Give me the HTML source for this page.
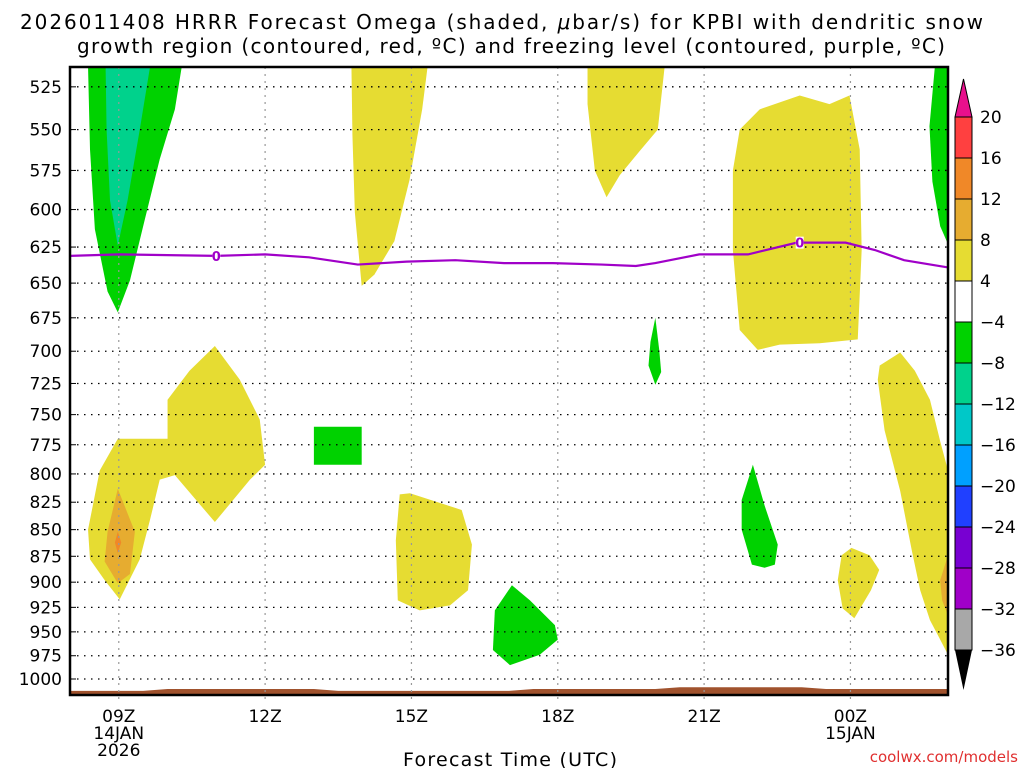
<!DOCTYPE html>
<html><head><meta charset="utf-8"><style>
html,body{margin:0;padding:0;background:#fff;width:1024px;height:768px;overflow:hidden}
svg text{font-family:"DejaVu Sans","Liberation Sans",sans-serif}
</style></head><body>
<svg id="chart" width="1024" height="768" xmlns="http://www.w3.org/2000/svg">
<text x="20" y="29" font-size="20" textLength="963" lengthAdjust="spacing">2026011408 HRRR Forecast Omega (shaded, <tspan font-style="italic">μ</tspan>bar/s) for KPBI with dendritic snow</text>
<text x="77" y="53" font-size="20" textLength="868" lengthAdjust="spacing">growth region (contoured, red, ºC) and freezing level (contoured, purple, ºC)</text>
<g id="shades"></g>
<g id="grid"></g>
<g id="lines"></g>
<g id="axes"></g>
<g id="cbar"></g>
<text x="403" y="766" font-size="19" textLength="214" lengthAdjust="spacing">Forecast Time (UTC)</text>
<text x="1018" y="762" font-size="15" fill="#e03030" text-anchor="end">coolwx.com/models</text>
</svg>
<script>
const pressureLevels=[525,550,575,600,625,650,675,700,725,750,775,800,825,850,875,900,925,950,975,1000];
const hourTicks=[9,12,15,18,21,24];
const hourLabels=[["09Z","14JAN","2026"],["12Z"],["15Z"],["18Z"],["21Z"],["00Z","15JAN"],];
const cbarLevels=[20,16,12,8,4,-4,-8,-12,-16,-20,-24,-28,-32,-36];
const cbarColors=["#ff4040","#f08828","#e6ac30","#e6dc32","#ffffff","#00d200","#00d28c","#00c8c8","#00a0ff","#2040ff","#7800d2","#a000c8","#a8a8a8"];
const TOP=513;
const shapes=[
 {c:"#00d200",h:[8.37,10.29,10.15,9.84,9.53,9.23,8.98,8.77,8.51,8.41],p:[TOP,TOP,538,568,607,648,671,656,613,562]},
 {c:"#00d28c",h:[8.73,9.64,9.43,9.18,8.98,8.82,8.75],p:[TOP,TOP,550,594,624,594,550]},
 {c:"#e6dc32",h:[8.37,8.61,8.98,10.0,10.0,10.45,10.97,11.48,11.89,12.0,11.69,10.97,10.15,9.84,9.64,9.43,9.02,8.71,8.41],p:[850,797,770,770,738,715,696,722,754,792,805,843,801,805,841,878,917,898,878]},
 {c:"#e6ac30",h:[8.77,8.98,9.33,9.23,8.98,8.71],p:[852,813,852,892,901,880]},
 {c:"#f08828",h:[8.92,8.98,9.05,8.98],p:[862,852,862,872]},
 {c:"#e6dc32",h:[13.77,15.33,15.22,14.96,14.65,14.24,13.98,13.84,13.79],p:[TOP,TOP,538,581,621,644,652,602,553]},
 {c:"#00d200",h:[13.0,13.98,13.98,13.0],p:[760,760,792,792]},
 {c:"#e6dc32",h:[14.76,14.97,16.03,16.24,16.16,15.79,15.17,14.72,14.68],p:[818,817,832,864,908,923,928,918,860]},
 {c:"#00d200",h:[17.06,17.43,17.94,18.0,17.63,17.02,16.67,16.71],p:[903,918,943,958,974,985,969,928]},
 {c:"#e6dc32",h:[18.61,20.19,20.05,19.68,19.27,19.0,18.76,18.61],p:[TOP,TOP,550,563,578,592,575,535]},
 {c:"#00d200",h:[20.0,20.08,20.12,20.0,19.86,19.9],p:[675,699,716,726,711,693]},
 {c:"#e6dc32",h:[21.73,22.14,22.96,23.57,23.98,24.19,24.23,24.15,23.37,22.55,22.10,21.73,21.59,21.59],p:[550,538,530,535,530,562,627,691,694,695,699,684,627,575]},
 {c:"#00d200",h:[22.0,22.24,22.51,22.45,22.24,21.98,21.77,21.77],p:[792,828,864,883,886,883,850,823]},
 {c:"#e6dc32",h:[24.02,24.39,24.59,24.42,24.08,23.84,23.74,23.82],p:[867,874,888,908,936,926,898,874]},
 {c:"#e6dc32",h:[24.6,25.02,25.32,25.63,25.84,26.0,26.0,25.84,25.63,25.43,25.26,25.02,24.7,24.56],p:[711,701,715,738,772,797,974,958,938,908,870,815,763,722]},
 {c:"#e6ac30",h:[26,25.84,25.88,26],p:[874,898,918,933]},
 {c:"#00d200",h:[25.73,26,26,25.84,25.68,25.62],p:[TOP,TOP,623,611,582,548]}
];
const frzHours=[8,9,11,12,12.9,13.9,14.9,15.9,16.9,17.9,18.9,19.6,20,20.9,21.9,22.9,23.9,24.5,25.1,26];
const frzP=[631,630,631,630,632,637,635,634,636,636,637,638,636,630,630,622,622,627,634,639];
const frzLabelHours=[11,22.96];
const groundHours=[8,9.5,10,13,13.5,17,17.5,20,20.5,23,23.5,26];
const groundP=[1013,1013,1011,1011,1013,1013,1011,1011,1009,1009,1011,1011];
const X0=70,X1=948,Y0=67,Y1=695;
const xS=h=>X0+(h-8)*(X1-X0)/18;
const yS=p=>679-919*Math.log(1000/p);
const NS="http://www.w3.org/2000/svg";
function mk(t,a,parent){const e=document.createElementNS(NS,t);for(const k in a)e.setAttribute(k,a[k]);parent.appendChild(e);return e;}
const gS=document.getElementById('shades'),gG=document.getElementById('grid'),gL=document.getElementById('lines'),gA=document.getElementById('axes'),gC=document.getElementById('cbar');
mk('clipPath',{id:'pc'},gS).appendChild(document.createElementNS(NS,'rect'));
const cr=gS.querySelector('clipPath rect');cr.setAttribute('x',X0);cr.setAttribute('y',Y0);cr.setAttribute('width',X1-X0);cr.setAttribute('height',Y1-Y0);
shapes.forEach((s,i)=>{
 const pts=s.h.map((h,j)=>Math.min(X1,Math.max(X0,xS(h)))+','+Math.max(Y0,yS(s.p[j]))).join(' ');
 const e=mk('polygon',{points:pts,fill:s.c,'clip-path':'url(#pc)'},gS);
 
 
});
{let d='M'+X0+','+Y1;groundHours.forEach((h,i)=>{d+=' L'+xS(h)+','+(yS(groundP[i])-0);});d+=' L'+X1+','+Y1+' Z';
const e=mk('path',{d:d,fill:'#a0522d'},gS);

}
pressureLevels.forEach(p=>{const y=yS(p);
 const e=mk('line',{x1:X0,x2:X1,y1:y,y2:y,stroke:'#000','stroke-width':1.3,'stroke-dasharray':'1.5 5.5'},gG);
 
 
 const t=mk('text',{x:62,y:y+6,'font-size':17,'text-anchor':'end'},gA);t.textContent=p;
 
 
 mk('line',{x1:X0,x2:X0+6,y1:y,y2:y,stroke:'#000'},gA);
});
hourTicks.forEach((h,i)=>{const x=xS(h);
 const e=mk('line',{x1:x,x2:x,y1:Y0,y2:Y1+8,stroke:'#999','stroke-width':1.2,'stroke-dasharray':'2 5'},gG);
 
 
 hourLabels[i].forEach((s,j)=>{const t=mk('text',{x:x,y:722+j*17,'font-size':17,'text-anchor':'middle'},gA);t.textContent=s;
 
 });
});
{const d=frzHours.map((h,i)=>(i?'L':'M')+xS(h)+','+yS(frzP[i])).join(' ');
const e=mk('path',{d:d,fill:'none',stroke:'#a000c8','stroke-width':2.2},gL);


frzLabelHours.forEach(h=>{let k=0;while(k<frzHours.length-2&&frzHours[k+1]<h)k++;
 const f=(h-frzHours[k])/(frzHours[k+1]-frzHours[k]);const p=frzP[k]+f*(frzP[k+1]-frzP[k]);
 const x=xS(h),y=yS(p);mk('rect',{x:x-4,y:y-6,width:8,height:12,fill:'#fff'},gL);
 const t=mk('text',{x:x,y:y+5,'font-size':13,'font-weight':'bold','text-anchor':'middle',fill:'#a000c8'},gL);t.textContent='0';
 
 });}
mk('rect',{x:X0,y:Y0,width:X1-X0,height:Y1-Y0,fill:'none',stroke:'#000','stroke-width':2.5},gA);
const cx=955,cw=17,cy0=117,cstep=(650-117)/13;
mk('polygon',{points:`${cx},${cy0} ${cx+cw},${cy0} ${cx+cw/2},${cy0-38}`,fill:'#e8108c',stroke:'#000'},gC);
cbarColors.forEach((c,i)=>{const r=mk('rect',{x:cx,y:cy0+i*cstep,width:cw,height:cstep,fill:c,stroke:'#000','stroke-width':1},gC);
 
 });
mk('polygon',{points:`${cx},650 ${cx+cw},650 ${cx+cw/2},690`,fill:'#000'},gC);
cbarLevels.forEach((v,i)=>{const t=mk('text',{x:cx+cw+8,y:cy0+i*cstep+6,'font-size':17},gC);t.textContent=v<0?'\u2212'+(-v):v;
 
 });
</script>
</body></html>
